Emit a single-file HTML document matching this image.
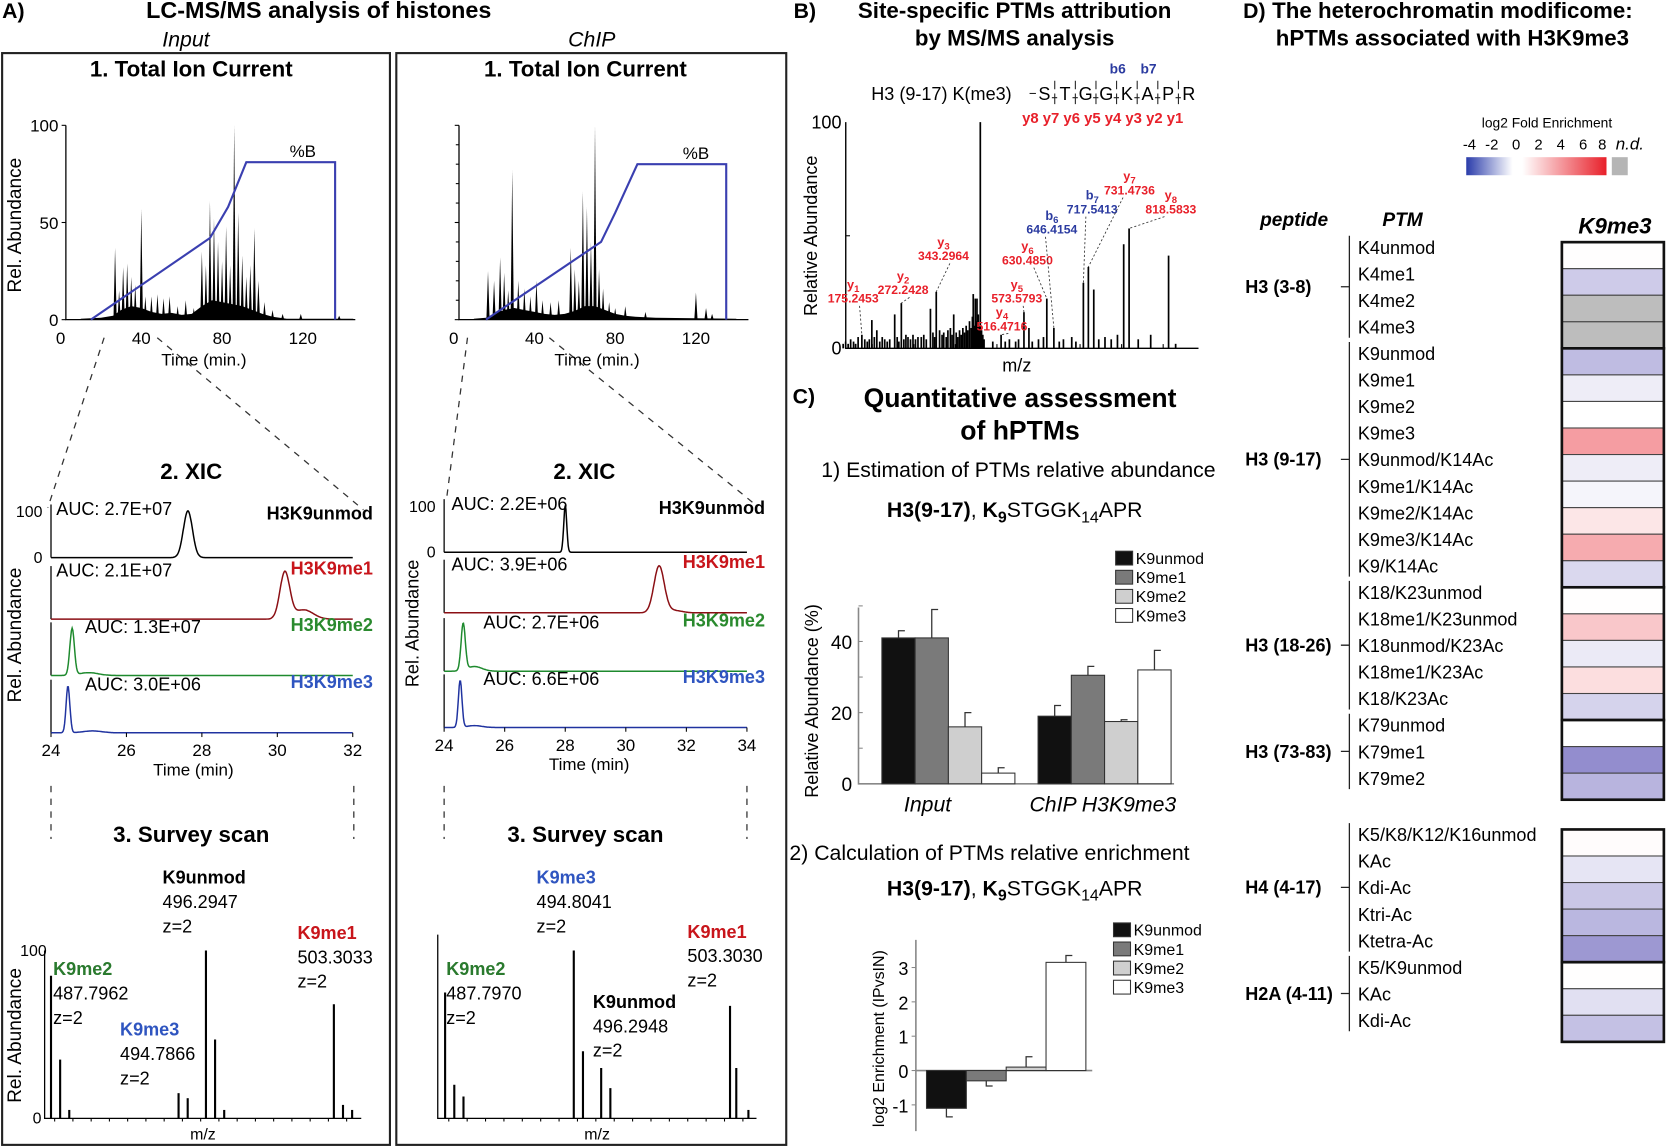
<!DOCTYPE html>
<html><head><meta charset="utf-8">
<style>
html,body{margin:0;padding:0;background:#fff;}
svg{display:block;font-family:"Liberation Sans",Arial,sans-serif;}
.t{font-family:"Liberation Sans Narrow","Liberation Sans",sans-serif;font-weight:bold;}
</style></head>
<body>
<svg id="fig" width="1666" height="1147" viewBox="0 0 1568 1080" preserveAspectRatio="none" xmlns="http://www.w3.org/2000/svg">
<rect x="0" y="0" width="1568" height="1080" fill="#fff"/>
<text x="2" y="17" class="t" font-size="20">A)</text>
<text x="300" y="17" class="t" font-size="22" text-anchor="middle">LC-MS/MS analysis of histones</text>
<text x="175" y="44" font-size="20" font-style="italic" text-anchor="middle">Input</text>
<text x="557" y="44" font-size="20" font-style="italic" text-anchor="middle">ChIP</text>
<rect x="2" y="50" width="365" height="1028" fill="none" stroke="#222" stroke-width="2"/>
<rect x="373" y="50" width="367" height="1028" fill="none" stroke="#222" stroke-width="2"/>
<text x="180" y="72" class="t" font-size="21" text-anchor="middle">1. Total Ion Current</text>
<text x="551" y="72" class="t" font-size="21" text-anchor="middle">1. Total Ion Current</text>
<text x="180" y="451" class="t" font-size="21" text-anchor="middle">2. XIC</text>
<text x="550" y="451" class="t" font-size="21" text-anchor="middle">2. XIC</text>
<text x="180" y="793" class="t" font-size="21" text-anchor="middle">3. Survey scan</text>
<text x="551" y="793" class="t" font-size="21" text-anchor="middle">3. Survey scan</text>
<g stroke="#333" stroke-width="1.2" stroke-dasharray="6,6" fill="none">
<line x1="98" y1="318" x2="45" y2="478"/><line x1="148" y1="318" x2="342" y2="480"/>
<line x1="440" y1="318" x2="420" y2="472"/><line x1="517" y1="318" x2="712" y2="476"/>
<line x1="48" y1="740" x2="48" y2="790"/><line x1="333" y1="740" x2="333" y2="790"/>
<line x1="418" y1="740" x2="418" y2="790"/><line x1="703" y1="740" x2="703" y2="790"/>
</g>
<text x="747" y="17" class="t" font-size="20">B)</text>
<text x="955" y="17" class="t" font-size="21" text-anchor="middle">Site-specific PTMs attribution</text>
<text x="955" y="43" class="t" font-size="21" text-anchor="middle">by MS/MS analysis</text>
<text x="820" y="94" font-size="17">H3 (9-17) K(me3)</text>
<g id="seq" font-size="17"></g>
<text x="1052" y="69" font-size="13" font-weight="bold" fill="#2b3ba0" text-anchor="middle">b6</text>
<text x="1081" y="69" font-size="13" font-weight="bold" fill="#2b3ba0" text-anchor="middle">b7</text>
<text x="962" y="116" font-size="14" font-weight="bold" fill="#e8202a">y8 y7 y6 y5 y4 y3 y2 y1</text>
<text x="746" y="380" class="t" font-size="20">C)</text>
<text x="960" y="383" font-size="25" font-weight="bold" text-anchor="middle">Quantitative assessment</text>
<text x="960" y="414" font-size="25" font-weight="bold" text-anchor="middle">of hPTMs</text>
<text x="773" y="449" font-size="20">1) Estimation of PTMs relative abundance</text>
<text x="955" y="487" font-size="20" text-anchor="middle"><tspan font-weight="bold">H3(9-17)</tspan>, <tspan font-weight="bold">K</tspan><tspan font-weight="bold" font-size="15" dy="5">9</tspan><tspan dy="-5">STGGK</tspan><tspan font-size="15" dy="5">14</tspan><tspan dy="-5">APR</tspan></text>
<text x="743" y="810" font-size="20">2) Calculation of PTMs relative enrichment</text>
<text x="955" y="843" font-size="20" text-anchor="middle"><tspan font-weight="bold">H3(9-17)</tspan>, <tspan font-weight="bold">K</tspan><tspan font-weight="bold" font-size="15" dy="5">9</tspan><tspan dy="-5">STGGK</tspan><tspan font-size="15" dy="5">14</tspan><tspan dy="-5">APR</tspan></text>
<text x="1170" y="17" class="t" font-size="20">D)</text>
<text x="1367" y="17" class="t" font-size="21" text-anchor="middle">The heterochromatin modificome:</text>
<text x="1367" y="43" class="t" font-size="21" text-anchor="middle">hPTMs associated with H3K9me3</text>
<text x="1456" y="120" font-size="13" text-anchor="middle">log2 Fold Enrichment</text>
<defs><linearGradient id="cg" x1="0" x2="1" y1="0" y2="0">
<stop offset="0" stop-color="#2a3caa"/><stop offset="0.33" stop-color="#fff"/><stop offset="0.4" stop-color="#fff"/><stop offset="1" stop-color="#e8202a"/></linearGradient></defs>
<rect x="1380" y="148" width="132" height="17" fill="url(#cg)"/>
<rect x="1517" y="148" width="15" height="17" fill="#b5b5b5"/>
<g font-size="14" text-anchor="middle">
<text x="1383" y="141">-4</text><text x="1404" y="141">-2</text><text x="1427" y="141">0</text><text x="1448" y="141">2</text><text x="1469" y="141">4</text><text x="1490" y="141">6</text><text x="1508" y="141">8</text></g>
<text x="1534" y="141" font-size="16" font-style="italic" text-anchor="middle">n.d.</text>
<text x="1218" y="213" font-size="18" font-weight="bold" font-style="italic" text-anchor="middle">peptide</text>
<text x="1320" y="213" font-size="18" font-weight="bold" font-style="italic" text-anchor="middle">PTM</text>
<text x="1520" y="220" font-size="21" font-weight="bold" font-style="italic" text-anchor="middle">K9me3</text>
<g id="dyn"></g>
</svg>
<script>
// ---------- DATA ----------
const ticInputTimes=[27,29,31,33,35,37,40,42,45,48,51,54,58,62,66,70,72,74,76,78,80,82,84,86,88,90,92,94,96,98,101,105,110,119,138];
const ticInputHeights=[37,15,27,29,22,18,57,12,12,13,11,12,7,10,6,35,28,61,52,40,30,48,28,100,55,33,22,28,47,20,9,5,3,3,2];
const ticInputEnvTimes=[10,20,26,30,35,40,45,50,55,60,65,70,75,80,85,90,95,100,105,112,145];
const ticInputEnvVals=[0.5,1,2,5,7,6,4,3,3.5,2.5,3,7,10,9,8,7,5,3,1.5,0.5,0.5];
const gradInputT=[15,74,83,92,136,136];
const gradInputB=[0,42,58,81,81,0];
const ticChipTimes=[17,20,23,25,27,29,32,35,38,41,44,48,52,58,60,62,64,66,68,70,72,74,77,80,85,95,120,125,128];
const ticChipHeights=[25,20,32,24,15,77,20,16,12,20,10,9,10,37,26,20,66,58,40,100,26,16,9,6,7,4,14,6,3];
const ticChipEnvTimes=[10,16,20,25,30,35,40,45,50,55,60,65,70,75,80,85,90,100,140];
const ticChipEnvVals=[0.5,1,3,5,6,5,4,3,2.5,3,4.5,7,7,5,3,2,1.5,1,0.5];
const gradChipT=[16,73,80,91,135,135];
const gradChipB=[0,40,55,80,80,0];

const xicLeftCenters=[27.63,30.2,24.56,24.45];
const xicLeftWidths=[0.12,0.13,0.06,0.05];
const xicLeftTailC=[27.7,30.7,25.0,25.1];
const xicLeftTailH=[0,0.2,0.06,0.04];
const xicRightCenters=[28.0,31.1,24.63,24.53];
const xicRightWidths=[0.05,0.17,0.07,0.06];
const xicRightTailC=[28.1,31.6,25.0,25.0];
const xicRightTailH=[0,0.05,0.1,0.04];
const xicNames=['H3K9unmod','H3K9me1','H3K9me2','H3K9me3'];
const xicLeftAUC=['AUC: 2.7E+07','AUC: 2.1E+07','AUC: 1.3E+07','AUC: 3.0E+06'];
const xicRightAUC=['AUC: 2.2E+06','AUC: 3.9E+06','AUC: 2.7E+06','AUC: 6.6E+06'];

const surveyLeftMz=[487.80,488.30,488.80,494.79,495.29,496.29,496.79,497.29,503.30,503.80,504.30];
const surveyLeftH=[0.85,0.35,0.05,0.15,0.12,1.0,0.47,0.05,0.68,0.08,0.05];
const surveyRightMz=[487.80,488.30,488.80,494.80,495.30,496.29,496.79,503.30,503.64,504.30];
const surveyRightH=[0.75,0.2,0.13,1.0,0.4,0.3,0.18,0.67,0.3,0.05];

const msmsMz=[175,199,211,254,270,281,340,354,362,388,396,443,448,452,460,510,565,577,620,637,708,720,733,805,818,913];
const msmsH=[0.06,0.125,0.08,0.15,0.2,0.06,0.175,0.25,0.08,0.09,0.15,0.24,0.22,0.22,1.0,0.06,0.16,0.09,0.22,0.09,0.29,0.36,0.26,0.46,0.53,0.41];
const msmsNoiseMz=[130,136,142,148,155,160,166,182,188,193,205,218,224,230,236,242,260,264,276,286,292,298,304,310,318,324,330,346,350,368,372,378,382,392,402,406,410,414,418,422,426,430,434,438,441,445,450,455,458,463,466,469,490,520,530,545,552,585,600,612,650,660,680,690,745,760,775,790,840,870,930];
const msmsNoiseH=[0.02,0.03,0.02,0.04,0.03,0.02,0.05,0.04,0.03,0.04,0.05,0.03,0.05,0.04,0.03,0.04,0.05,0.03,0.04,0.05,0.04,0.06,0.04,0.05,0.05,0.06,0.04,0.07,0.05,0.06,0.07,0.05,0.08,0.06,0.07,0.05,0.08,0.06,0.09,0.07,0.1,0.08,0.12,0.09,0.14,0.1,0.12,0.15,0.1,0.08,0.06,0.04,0.03,0.03,0.04,0.03,0.04,0.03,0.04,0.05,0.03,0.04,0.05,0.03,0.04,0.05,0.04,0.06,0.04,0.06,0.02];
const msmsLabels=['y1','y2','y3','y4','y5','y6','b6','b7','y7','y8'];
const msmsLabelMz=['175.2453','272.2428','343.2964','516.4716','573.5793','630.4850','646.4154','717.5413','731.4736','818.5833'];
const msmsLabelPeak=[175,270,354,510,565,620,637,708,720,818];
const msmsLabelPeakH=[0.06,0.2,0.25,0.06,0.16,0.22,0.09,0.29,0.36,0.53];
const seqLetters=['S','T','G','G','K','A','P','R'];

const barCategories=['Input','ChIP H3K9me3'];
const barSeries=['K9unmod','K9me1','K9me2','K9me3'];
const barInput=[41,41,16,3];
const barChip=[19,30.5,17.5,32];
const barInputErr=[43,49,20,4.5];
const barChipErr=[22,33,18,37.5];
const enrichValues=[-1.1,-0.3,0.1,3.15];
const enrichErr=[-1.35,-0.45,0.4,3.35];
const abundTicks=[0,20,40];
const enrichTicks=[-1,0,1,2,3];

const heatGroups=['H3 (3-8)','H3 (9-17)','H3 (18-26)','H3 (73-83)','H4 (4-17)','H2A (4-11)'];
const heatGroupSizes=[4,9,5,3,5,3];
const heatPTMs=['K4unmod','K4me1','K4me2','K4me3','K9unmod','K9me1','K9me2','K9me3','K9unmod/K14Ac','K9me1/K14Ac','K9me2/K14Ac','K9me3/K14Ac','K9/K14Ac','K18/K23unmod','K18me1/K23unmod','K18unmod/K23Ac','K18me1/K23Ac','K18/K23Ac','K79unmod','K79me1','K79me2','K5/K8/K12/K16unmod','KAc','Kdi-Ac','Ktri-Ac','Ktetra-Ac','K5/K9unmod','KAc','Kdi-Ac'];
const heatValues=[0.05,-1.0,null,null,-1.3,-0.35,0,3.5,-0.35,-0.2,0.9,3.0,-0.75,0.05,2.0,-0.4,1.2,-0.85,0,-2.2,-1.45,0.1,-0.5,-1.1,-1.4,-2.0,0.02,-0.6,-1.2];

// ---------- HELPERS ----------
const NS='http://www.w3.org/2000/svg';
const root=document.getElementById('dyn');
function mk(tag,attrs,parent){const e=document.createElementNS(NS,tag);for(const k in attrs)e.setAttribute(k,attrs[k]);(parent||root).appendChild(e);return e;}
function txt(s,attrs,parent){const e=mk('text',attrs,parent);e.textContent=s;return e;}
function lin(d0,d1,r0,r1){return v=>r0+(v-d0)*(r1-r0)/(d1-d0);}

// sequence letters with brackets
{
  const sg=document.getElementById('seq');
  seqLetters.forEach((L,i)=>{
    const x=983+i*19.4;
    const t=txt(L,{x:x,y:94,'text-anchor':'middle'},sg);
    
    
    if(i<seqLetters.length-1){
      mk('path',{d:`M${x+9.7},${76} v8 M${x+9.7},${88} v10 M${x+7},${92} h5`,stroke:'#222','stroke-width':1,fill:'none'},sg);
    }
  });
  mk('line',{x1:969,x2:975,y1:88,y2:88,stroke:'#222'},sg);
}

// ---------- TIC ----------
function tic(x0,x1tick,times,heights,envT,envV,gT,gB,showTicks,nm){
  const X=lin(0,40,x0,x1tick), Y=lin(0,100,301,118);
  const g=mk('g',{});
  
  
  let pts=envT.map((t,i)=>X(t)+','+Y(envV[i])).join(' ');
  const env=mk('polygon',{points:X(envT[0])+','+Y(0)+' '+pts+' '+X(envT[envT.length-1])+','+Y(0),fill:'#000'},g);
  
  
  times.forEach((t,i)=>{
    const p=mk('polygon',{points:X(t-0.8)+','+Y(0)+' '+X(t)+','+Y(heights[i])+' '+X(t+0.8)+','+Y(0),fill:'#000'},g);
    
    
  });
  const ax=mk('path',{d:`M${X(0)+5},${Y(100)} V${Y(0)} H${X(146)}`,stroke:'#000','stroke-width':1.2,fill:'none'},g);
  
  
  [0,50,100].forEach(v=>{
    mk('line',{x1:X(0)+1,x2:X(0)+5,y1:Y(v),y2:Y(v),stroke:'#000'},g);
    if(showTicks){const l=txt(String(v),{x:X(0)-2,y:Y(v)+6,'font-size':16,'text-anchor':'end'},g);
      
      }
  });
  if(!showTicks){for(let v=10;v<100;v+=10)mk('line',{x1:X(0)+2,x2:X(0)+5,y1:Y(v),y2:Y(v),stroke:'#000'},g);}
  [0,40,80,120].forEach(v=>{const l=txt(String(v),{x:X(v),y:324,'font-size':16,'text-anchor':'middle'},g);
    
    });
  const xt=txt('Time (min.)',{x:X(71),y:344,'font-size':16,'text-anchor':'middle'},g);
  
  
  const gl=mk('polyline',{points:gT.map((t,i)=>X(t)+','+Y(gB[i])).join(' '),stroke:'#3a3fb0','stroke-width':2,fill:'none'},g);
  
  
  const gb=txt('%B',{x:X(120),y:Y(gB[3])-5,'font-size':16,'text-anchor':'middle'},g);
  
  
}
tic(57,133,ticInputTimes,ticInputHeights,ticInputEnvTimes,ticInputEnvVals,gradInputT,gradInputB,true,'tic-input-chart');
tic(427,503,ticChipTimes,ticChipHeights,ticChipEnvTimes,ticChipEnvVals,gradChipT,gradChipB,false,'tic-chip-chart');
{const r=txt('Rel. Abundance',{x:20,y:212,'font-size':18,'text-anchor':'middle',transform:'rotate(-90 20 212)'});

}

// ---------- XIC ----------
const xicColors=['#000','#8b0f14','#1e8a2e','#2033a0'];
const xicLabelColors=['#000','#c8151b','#2a8a2e','#2f55c0'];
function xic(x0,pxPerMin,tMax,bases,cent,wid,tc,th,auc,aucX,nameX,topLabel,nm){
  const X=t=>x0+(t-24)*pxPerMin, H=44;
  const g=mk('g',{});
  
  
  bases.forEach((b,i)=>{
    mk('line',{x1:x0,x2:x0,y1:b-H-6,y2:b,stroke:'#000','stroke-width':1.2},g);
    let d='';
    for(let t=24;t<=tMax+0.001;t+=0.02){
      const v=Math.exp(-0.5*((t-cent[i])/wid[i])**2)+th[i]*Math.exp(-0.5*((t-tc[i])/0.25)**2);
      d+=(d?'L':'M')+X(t).toFixed(1)+','+(b-v*H).toFixed(1);
    }
    const p=mk('path',{d:d,stroke:xicColors[i],'stroke-width':1.4,fill:'none'},g);
    
    
    const a=txt(auc[i],{x:aucX[i],y:b-H+4,'font-size':17},g);
    
    
    const n=txt(xicNames[i],{x:nameX,y:b-H+(i==0?8:2),'font-size':17,'font-weight':'bold','text-anchor':'end',fill:xicLabelColors[i]},g);
    
    
  });
  if(topLabel){
    txt('100',{x:x0-8,y:bases[0]-H+6,'font-size':15,'text-anchor':'end'},g);
    txt('0',{x:x0-8,y:bases[0]+5,'font-size':15,'text-anchor':'end'},g);
  }
  const b=bases[3];
  for(let t=24;t<=tMax;t+=2){
    mk('line',{x1:X(t),x2:X(t),y1:b,y2:b+4,stroke:'#000'},g);
    const l=txt(String(t),{x:X(t),y:b+22,'font-size':16,'text-anchor':'middle'},g);
    
    
  }
  const xt=txt('Time (min)',{x:X((24+tMax)/2)+(tMax>32?-6:-8),y:b+40,'font-size':16,'text-anchor':'middle'},g);
  
  
}
xic(48,35.5,32,[525,583,636,690],xicLeftCenters,xicLeftWidths,xicLeftTailC,xicLeftTailH,xicLeftAUC,[53,53,80,80],351,true,'xic-input-chart');
xic(418,28.5,34,[520,577,632,685],xicRightCenters,xicRightWidths,xicRightTailC,xicRightTailH,xicRightAUC,[425,425,455,455],720,true,'xic-chip-chart');
{const r=txt('Rel. Abundance',{x:20,y:598,'font-size':18,'text-anchor':'middle',transform:'rotate(-90 20 598)'});


const r2=txt('Rel. Abundance',{x:394,y:587,'font-size':17,'text-anchor':'middle',transform:'rotate(-90 394 587)'});

}

// ---------- SURVEY SCANS ----------
function survey(ax0,ax1,mz0,mz1,mzs,hs,show100,nm){
  const X=lin(mz0,mz1,ax0,ax1), Y=lin(0,1,1053,895);
  const g=mk('g',{});
  
  
  mk('path',{d:`M${ax0},${show100?895:880} V1053 H${ax1}`,stroke:'#000','stroke-width':1.2,fill:'none'},g);
  for(let m=Math.ceil(mz0);m<mz1;m+=1)mk('line',{x1:X(m),x2:X(m),y1:1053,y2:1056,stroke:'#000'},g);
  mzs.forEach((m,i)=>{
    const l=mk('line',{x1:X(m),x2:X(m),y1:1053,y2:Y(hs[i]),stroke:'#000','stroke-width':2},g);
    
    
  });
  if(show100){txt('100',{x:ax0+2,y:900,'font-size':15,'text-anchor':'end'},g);txt('0',{x:ax0-3,y:1058,'font-size':15,'text-anchor':'end'},g);}
  const xt=txt('m/z',{x:(ax0+ax1)/2,y:1073,'font-size':15,'text-anchor':'middle'},g);
  
  
}
survey(42,340,487.45,504.8,surveyLeftMz,surveyLeftH,true,'survey-input-chart');
survey(412,712,487.4,504.74,surveyRightMz,surveyRightH,false,'survey-chip-chart');
{const r=txt('Rel. Abundance',{x:20,y:975,'font-size':18,'text-anchor':'middle',transform:'rotate(-90 20 975)'});

}
const surveyLabels=[
 ['K9me2','487.7962','z=2',50,918,'#2a7a2e'],['K9me3','494.7866','z=2',113,975,'#2f55c0'],
 ['K9unmod','496.2947','z=2',153,832,'#000'],['K9me1','503.3033','z=2',280,884,'#c8151b'],
 ['K9me3','494.8041','z=2',505,832,'#2f55c0'],['K9me2','487.7970','z=2',420,918,'#2a7a2e'],
 ['K9unmod','496.2948','z=2',558,949,'#000'],['K9me1','503.3030','z=2',647,883,'#c8151b']];
surveyLabels.forEach(s=>{
  const a=txt(s[0],{x:s[3],y:s[4],'font-size':17,'font-weight':'bold',fill:s[5]});
  
  
  const b=txt(s[1],{x:s[3],y:s[4]+23,'font-size':17});
  
  
  const c=txt(s[2],{x:s[3],y:s[4]+46,'font-size':17});
  
  
});

// ---------- MS/MS spectrum ----------
{
  const X=lin(126,985,792,1128), Y=lin(0,1,328,115);
  const g=mk('g',{});
  
  
  mk('path',{d:'M796,115 V328 H1128',stroke:'#000','stroke-width':1.3,fill:'none'},g);
  mk('line',{x1:796,x2:800,y1:222,y2:222,stroke:'#000'},g);
  [200,300,400,500,600,700,800,900].forEach(m=>mk('line',{x1:X(m),x2:X(m),y1:328,y2:324,stroke:'#000'},g));
  txt('100',{x:792,y:121,'font-size':17,'text-anchor':'end'},g);
  txt('0',{x:792,y:334,'font-size':17,'text-anchor':'end'},g);
  const xt=txt('m/z',{x:957,y:350,'font-size':17,'text-anchor':'middle'},g);
  
  
  const yt=txt('Relative Abundance',{x:769,y:222,'font-size':17,'text-anchor':'middle',transform:'rotate(-90 769 222)'},g);
  
  
  msmsNoiseMz.forEach((m,i)=>{
    const l=mk('line',{x1:X(m),x2:X(m),y1:328,y2:Y(msmsNoiseH[i]),stroke:'#000','stroke-width':1.6},g);
    
    
  });
  msmsMz.forEach((m,i)=>{
    const l=mk('line',{x1:X(m),x2:X(m),y1:328,y2:Y(msmsH[i]),stroke:'#000','stroke-width':1.6},g);
    
    
  });
  const lp=[[803,272],[850,264],[888,232],[943,298],[957,272],[967,236],[990,207],[1028,188],[1063,170],[1102,188]];
  msmsLabels.forEach((s,i)=>{
    const col=s[0]=='b'?'#2b3ba0':'#e8202a';
    const t=txt('',{x:lp[i][0],y:lp[i][1],'font-size':12,'font-weight':'bold',fill:col,'text-anchor':'middle'},g);
    t.innerHTML=`${s[0]}<tspan font-size="9" dy="3">${s.slice(1)}</tspan>`;
    
    
    const v=txt(msmsLabelMz[i],{x:lp[i][0],y:lp[i][1]+13,'font-size':11.5,'font-weight':'bold',fill:col,'text-anchor':'middle'},g);
    
    
    mk('line',{x1:lp[i][0]+(i>5?-6:6),y1:lp[i][1]+16,x2:X(msmsLabelPeak[i]),y2:Y(msmsLabelPeakH[i]),stroke:'#333','stroke-width':0.8,'stroke-dasharray':'2,2'},g);
  });
}

// ---------- BAR CHART 1 ----------
const barFills=['#111','#7a7a7a','#cfcfcf','#fff'];
function legend(x,y,nm){
  const g=mk('g',{});
  
  
  barSeries.forEach((s,i)=>{
    mk('rect',{x:x,y:y+i*18-12,width:16,height:13,fill:barFills[i],stroke:'#333'},g);
    const t=txt(s,{x:x+19,y:y+i*18,'font-size':15},g);
    
    
  });
}
legend(1050,531,'abundance-legend');
{
  const Y=lin(0,40,738,604);
  const g=mk('g',{});
  
  
  mk('path',{d:`M808,572 V738 H1105`,stroke:'#888','stroke-width':1.5,fill:'none'},g);
  [0,10,20,30,40,50].forEach(v=>mk('line',{x1:808,x2:812,y1:Y(v),y2:Y(v),stroke:'#888'},g));
  abundTicks.forEach(v=>{const t=txt(String(v),{x:802,y:Y(v)+7,'font-size':18,'text-anchor':'end'},g);
    
    });
  const groups=[barInput,barChip], errs=[barInputErr,barChipErr], gx=[830,977], bw=31.3;
  groups.forEach((vals,gi)=>{
    vals.forEach((v,i)=>{
      const x=gx[gi]+i*bw;
      const r=mk('rect',{x:x,y:Y(v),width:bw,height:Y(0)-Y(v),fill:barFills[i],stroke:'#333','stroke-width':1},g);
      
      
      mk('path',{d:`M${x+bw/2},${Y(v)} V${Y(errs[gi][i])} h6`,stroke:'#333','stroke-width':1.2,fill:'none'},g);
    });
  });
  const c1=txt(barCategories[0],{x:873,y:764,'font-size':20,'font-style':'italic','text-anchor':'middle'},g);
  
  
  const c2=txt(barCategories[1],{x:1038,y:764,'font-size':20,'font-style':'italic','text-anchor':'middle'},g);
  
  
  const yt=txt('Relative Abundance (%)',{x:770,y:660,'font-size':17,'text-anchor':'middle',transform:'rotate(-90 770 660)'},g);
  
  
}
// ---------- BAR CHART 2 ----------
legend(1048,881,'enrichment-legend');
{
  const Y=lin(0,3,1008,911);
  const g=mk('g',{});
  
  
  mk('line',{x1:862,x2:862,y1:885,y2:1065,stroke:'#888','stroke-width':1.5},g);
  mk('line',{x1:862,x2:1028,y1:Y(0),y2:Y(0),stroke:'#888','stroke-width':1.5},g);
  enrichTicks.forEach(v=>{
    mk('line',{x1:858,x2:862,y1:Y(v),y2:Y(v),stroke:'#888'},g);
    const t=txt(String(v),{x:855,y:Y(v)+7,'font-size':17,'text-anchor':'end'},g);
    
    
  });
  const bw=37.5;
  enrichValues.forEach((v,i)=>{
    const x=872+i*bw, y0=Math.min(Y(v),Y(0)), h=Math.abs(Y(v)-Y(0));
    const r=mk('rect',{x:x,y:y0,width:bw,height:Math.max(h,1),fill:barFills[i],stroke:'#333'},g);
    
    
    mk('path',{d:`M${x+bw/2},${Y(v)} V${Y(enrichErr[i])} h6`,stroke:'#333','stroke-width':1.2,fill:'none'},g);
  });
  const yt=txt('log2 Enrichment (IPvsIN)',{x:832,y:978,'font-size':15,'text-anchor':'middle',transform:'rotate(-90 832 978)'},g);
  
  
}

// ---------- HEATMAP ----------
function heatColor(v){
  if(v===null)return '#bdbdbd';
  const mix=(a,b,t)=>a.map((c,i)=>Math.round(c+(b[i]-c)*t));
  let c;
  if(v<0)c=mix([255,255,255],[58,48,165],Math.min(1,-v/4));
  else c=mix([255,255,255],[232,32,42],Math.min(1,v/8));
  return `rgb(${c[0]},${c[1]},${c[2]})`;
}
{
  const g=mk('g',{});
  
  
  const rowH=25, hx=1470, hw=96;
  let row=0, y=228;
  heatGroups.forEach((gname,gi)=>{
    if(gi==4)y+=28;
    const gy0=y;
    for(let k=0;k<heatGroupSizes[gi];k++){
      const r=mk('rect',{x:hx,y:y,width:hw,height:rowH,fill:heatColor(heatValues[row]),stroke:'#444','stroke-width':1},g);
      
      
      const t=txt(heatPTMs[row],{x:1278,y:y+11,'font-size':17},g);
      
      
      y+=rowH;row++;
    }
    mk('rect',{x:hx,y:gy0,width:hw,height:y-gy0,fill:'none',stroke:'#111','stroke-width':2.5},g);
    mk('path',{d:`M1270,${gy0-6} V${y-10} M1262,${(gy0+y)/2-8} H1270`,stroke:'#222','stroke-width':1.2,fill:'none'},g);
    const gl=txt(gname,{x:1172,y:(gy0+y)/2-2,'font-size':17,'font-weight':'bold'},g);
    
    
  });
}
</script>
</body></html>
